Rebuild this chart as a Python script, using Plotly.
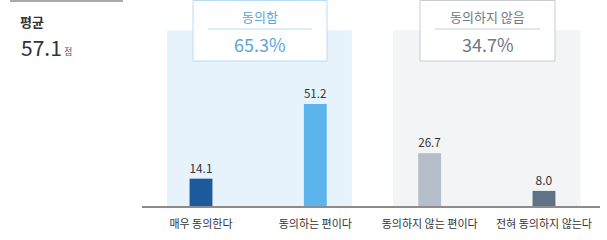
import plotly.graph_objects as go

categories = ["매우 동의한다", "동의하는 편이다", "동의하지 않는 편이다", "전혀 동의하지 않는다"]
values = [14.1, 51.2, 26.7, 8.0]
bar_colors = ["#1D5A9C", "#5BB4EC", "#B4BDC8", "#5F7287"]
group_titles = ["동의함", "동의하지 않음"]
group_values = ["65.3%", "34.7%"]
avg_label = "평균"
avg_value = "57.1"
avg_unit = "점"

FONT = "Noto Sans CJK KR"
W, H = 607, 240

x = list(range(len(categories)))

fig = go.Figure()
fig.add_trace(go.Bar(
    x=x, y=values, width=0.2,
    marker=dict(color=bar_colors, line=dict(width=0)),
    text=[f"{v:.1f}" for v in values], textposition="outside",
    textfont=dict(family=FONT, size=12, color="#333333"),
    cliponaxis=False, hoverinfo="skip",
))

# group background panels
fig.add_shape(type="rect", xref="x", yref="y", x0=-0.297, x1=1.32, y0=0, y1=88,
              fillcolor="#E6F3FD", line=dict(width=0), layer="below")
fig.add_shape(type="rect", xref="x", yref="y", x0=1.68, x1=3.32, y0=0, y1=88,
              fillcolor="#F3F4F6", line=dict(width=0), layer="below")

# group boxes
boxes = [
    dict(x0=193, x1=327, border="#B7DCF3", tc="#5BA6DB", lx0=208, lx1=312),
    dict(x0=420, x1=555, border="#C8CCD1", tc="#6E7784", lx0=435, lx1=540),
]
for b, t, v in zip(boxes, group_titles, group_values):
    fig.add_shape(type="rect", xref="paper", yref="paper",
                  x0=b["x0"] / W, x1=b["x1"] / W, y0=1 - 61 / H, y1=1 - 0.5 / H,
                  fillcolor="white", line=dict(color=b["border"], width=1))
    fig.add_shape(type="line", xref="paper", yref="paper",
                  x0=b["lx0"] / W, x1=b["lx1"] / W, y0=1 - 29 / H, y1=1 - 29 / H,
                  line=dict(color=b["border"], width=1))
    cx = (b["x0"] + b["x1"]) / 2 / W
    fig.add_annotation(x=cx, y=1 - 17 / H, xref="paper", yref="paper", text=t,
                       showarrow=False, font=dict(family=FONT, size=13, color=b["tc"]),
                       xanchor="center", yanchor="middle")
    fig.add_annotation(x=cx, y=1 - 44 / H, xref="paper", yref="paper", text=v,
                       showarrow=False, font=dict(family=FONT, size=18, color=b["tc"]),
                       xanchor="center", yanchor="middle")

# baseline
fig.add_shape(type="line", xref="paper", yref="paper", x0=142 / W, x1=600 / W,
              y0=1 - 207 / H, y1=1 - 207 / H, line=dict(color="#8C8C8C", width=2))
# top-left rule
fig.add_shape(type="line", xref="paper", yref="paper", x0=10 / W, x1=123 / W,
              y0=1 - 1 / H, y1=1 - 1 / H, line=dict(color="#AAAAAA", width=2))

# average block
fig.add_annotation(x=18 / W, y=1 - 21 / H, xref="paper", yref="paper", text=f"<b>{avg_label}</b>",
                   showarrow=False, font=dict(family=FONT, size=13, color="#333333"),
                   xanchor="left", yanchor="middle")
fig.add_annotation(x=19 / W, y=1 - 47 / H, xref="paper", yref="paper", text=avg_value,
                   showarrow=False, font=dict(family=FONT, size=21, color="#333333"),
                   xanchor="left", yanchor="middle")
fig.add_annotation(x=62 / W, y=1 - 51 / H, xref="paper", yref="paper", text=avg_unit,
                   showarrow=False, font=dict(family=FONT, size=9, color="#555555"),
                   xanchor="left", yanchor="middle")

fig.update_layout(
    width=W, height=H, margin=dict(l=0, r=0, t=0, b=0),
    paper_bgcolor="white", plot_bgcolor="rgba(0,0,0,0)", showlegend=False,
    xaxis=dict(domain=[142 / W, 600 / W], range=[-0.516, 3.49], tickmode="array",
               tickvals=x, ticktext=categories, showgrid=False, zeroline=False,
               showline=False, ticks="", ticklabelstandoff=9,
               tickfont=dict(family=FONT, size=11, color="#333333"),
               fixedrange=True),
    yaxis=dict(domain=[33 / H, 1], range=[0, 103], visible=False, fixedrange=True),
)

fig.write_html("out.html")
